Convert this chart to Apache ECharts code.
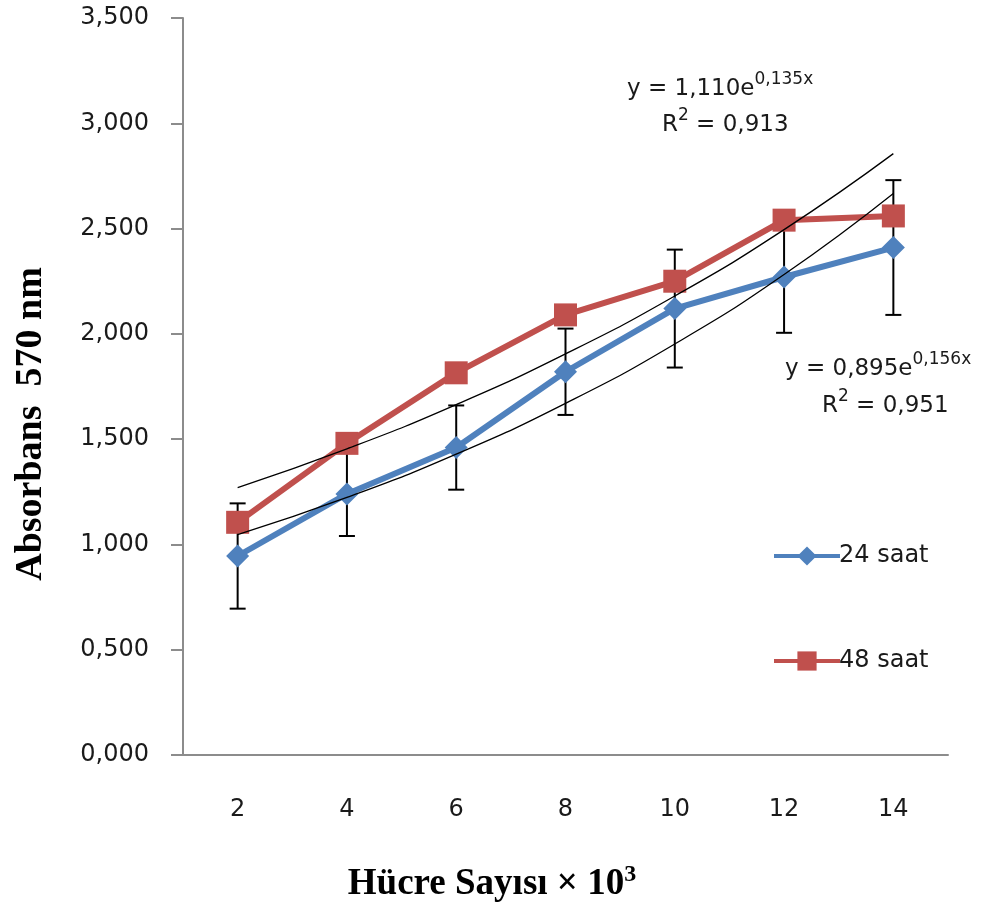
<!DOCTYPE html>
<html>
<head>
<meta charset="utf-8">
<script src="https://cdn.jsdelivr.net/npm/echarts@6/dist/echarts.min.js"></script>
<style>
  html, body { margin: 0; padding: 0; background: #fff; }
  #graph { width: 989px; height: 909px; }
</style>
</head>
<body>
<div id="graph"></div>
<script>
// veriler
let categories = ['2', '4', '6', '8', '10', '12', '14'];
let saat24 = [0.945, 1.24, 1.46, 1.82, 2.12, 2.27, 2.41];
let saat48 = [1.105, 1.48, 1.815, 2.09, 2.25, 2.54, 2.56];
let hata24 = [0.25, 0.20, 0.20, 0.205, 0.28, 0.265, 0.32];
// üstel trend çizgileri (denklemlerden okunan noktalar)
let trend24 = [1.046, 1.223, 1.429, 1.670, 1.952, 2.282, 2.667];
let trend48 = [1.270, 1.454, 1.664, 1.905, 2.180, 2.495, 2.856];

let hataData = [];
for (let i = 0; i < saat24.length; i++) {
    hataData.push([i, saat24[i] - hata24[i], saat24[i] + hata24[i]]);
}

let myChart = echarts.init(document.getElementById('graph'));
let tickFont = 'DejaVu Sans';
let eqFont = 'DejaVu Sans';

// trend denklemi metni (üst simgeli)
function denklem(x, y, text) {
    return {
        type: 'text', x: x, y: y,
        style: {
            text: text,
            textVerticalAlign: 'middle',
            rich: {
                b: { fontFamily: eqFont, fontSize: 23, fill: '#1a1a1a' },
                s: { fontFamily: eqFont, fontSize: 17, fill: '#1a1a1a', padding: [0, 0, 18, 0] }
            }
        }
    };
}

let option = {
    animation: false,
    backgroundColor: '#fff',
    grid: { left: 183, right: 41, top: 18, bottom: 154 },
    xAxis: {
        type: 'category',
        data: categories,
        boundaryGap: true,
        axisLine: { lineStyle: { color: '#8c8c8c', width: 2 } },
        axisTick: { inside: true, length: 7, alignWithLabel: true, lineStyle: { color: '#8c8c8c', width: 2 } },
        axisLabel: { margin: 43, fontFamily: tickFont, fontSize: 24, color: '#1a1a1a' },
        splitLine: { show: false }
    },
    yAxis: {
        type: 'value',
        min: 0,
        max: 3.5,
        interval: 0.5,
        axisLine: { show: true, lineStyle: { color: '#8c8c8c', width: 2 } },
        axisTick: { show: true, length: 12, lineStyle: { color: '#8c8c8c', width: 2 } },
        axisLabel: {
            margin: 34, fontFamily: tickFont, fontSize: 24, color: '#1a1a1a',
            formatter: function (v) { return v.toFixed(3).replace('.', ','); }
        },
        splitLine: { show: false }
    },
    legend: [
        {
            data: ['24 saat'], orient: 'vertical', left: 767, top: 539,
            itemWidth: 66, itemHeight: 24, itemGap: 0,
            lineStyle: { width: 4 },
            textStyle: { fontFamily: tickFont, fontSize: 24, color: '#1a1a1a', padding: [0, 0, 0, -6] }
        },
        {
            data: ['48 saat'], orient: 'vertical', left: 767, top: 644,
            itemWidth: 66, itemHeight: 24, itemGap: 0,
            lineStyle: { width: 4 },
            textStyle: { fontFamily: tickFont, fontSize: 24, color: '#1a1a1a', padding: [0, 0, 0, -6] }
        }
    ],
    series: [
        {
            name: 'hata',
            type: 'custom',
            z: 1,
            data: hataData,
            renderItem: function (params, api) {
                let x = api.value(0);
                let lo = api.coord([x, api.value(1)]);
                let hi = api.coord([x, api.value(2)]);
                let w = 8;
                let st = { stroke: '#000', lineWidth: 2 };
                return {
                    type: 'group',
                    children: [
                        { type: 'line', shape: { x1: lo[0], y1: lo[1], x2: hi[0], y2: hi[1] }, style: st },
                        { type: 'line', shape: { x1: lo[0] - w, y1: lo[1], x2: lo[0] + w, y2: lo[1] }, style: st },
                        { type: 'line', shape: { x1: hi[0] - w, y1: hi[1], x2: hi[0] + w, y2: hi[1] }, style: st }
                    ]
                };
            }
        },
        {
            name: '24 saat',
            type: 'line',
            z: 3,
            data: saat24,
            color: '#4F81BD',
            symbol: 'diamond',
            symbolSize: 23,
            lineStyle: { width: 6, color: '#4F81BD' },
            itemStyle: { color: '#4F81BD' }
        },
        {
            name: '48 saat',
            type: 'line',
            z: 3,
            data: saat48,
            color: '#C0504D',
            symbol: 'rect',
            symbolSize: 23,
            lineStyle: { width: 6, color: '#C0504D' },
            itemStyle: { color: '#C0504D' }
        },
        {
            name: 'trend24',
            type: 'line',
            z: 5,
            data: trend24,
            smooth: true,
            showSymbol: false,
            silent: true,
            lineStyle: { width: 1.3, color: '#000' }
        },
        {
            name: 'trend48',
            type: 'line',
            z: 5,
            data: trend48,
            smooth: true,
            showSymbol: false,
            silent: true,
            lineStyle: { width: 1.3, color: '#000' }
        }
    ],
    graphic: [
        denklem(627, 89, '{b|y = 1,110e}{s|0,135x}'),
        denklem(662, 125, '{b|R}{s|2}{b| = 0,913}'),
        denklem(785, 369, '{b|y = 0,895e}{s|0,156x}'),
        denklem(822, 406, '{b|R}{s|2}{b| = 0,951}'),
        {
            type: 'text', x: 31, y: 424, rotation: Math.PI / 2,
            style: {
                text: 'Absorbans  570 nm',
                textAlign: 'center', textVerticalAlign: 'middle',
                fontFamily: 'Liberation Serif', fontWeight: 'bold', fontSize: 38, fill: '#000'
            }
        },
        {
            type: 'text', x: 492, y: 884,
            style: {
                text: '{b|Hücre Sayısı × 10}{s|3}',
                textAlign: 'center', textVerticalAlign: 'middle',
                rich: {
                    b: { fontFamily: 'Liberation Serif', fontWeight: 'bold', fontSize: 37, fill: '#000' },
                    s: { fontFamily: 'Liberation Serif', fontWeight: 'bold', fontSize: 24, fill: '#000', padding: [0, 0, 18, 0] }
                }
            }
        }
    ]
};
myChart.setOption(option);
</script>
</body>
</html>
